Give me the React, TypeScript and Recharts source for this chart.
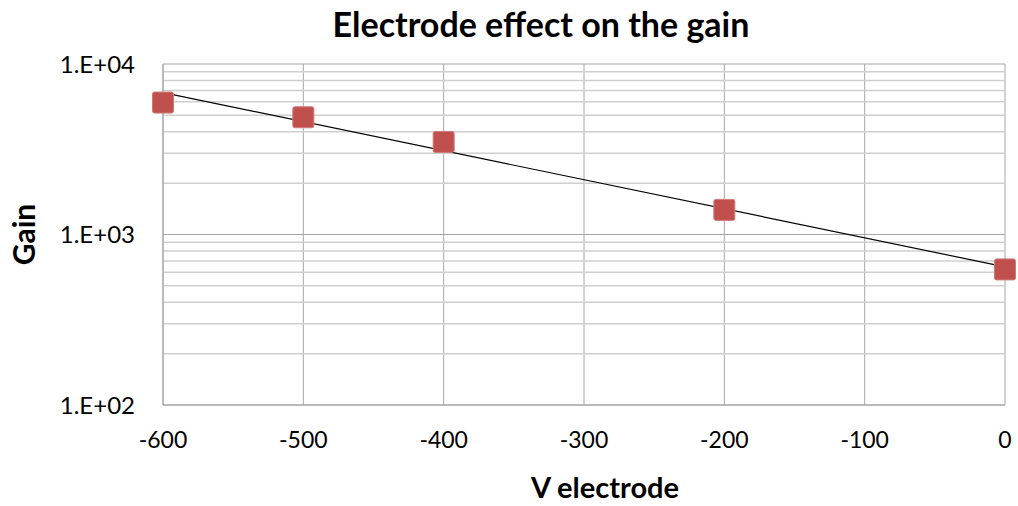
import React from "react";
import {
  ComposedChart,
  Scatter,
  Line,
  XAxis,
  YAxis,
  CartesianGrid,
  ReferenceLine,
  Label,
} from "recharts";

// measured gain vs electrode voltage
const voltages = [-600, -500, -400, -200, 0];
const gains = [5940, 4870, 3490, 1394, 624];

// exponential trendline, read at its two ends
const trendVoltages = [-600, 0];
const trendGains = [6795, 646];

const xTicks = [-600, -500, -400, -300, -200, -100, 0];
const yTicks = [100, 1000, 10000];
const minorTicks = [200, 300, 400, 500, 600, 700, 800, 900, 2000, 3000, 4000, 5000, 6000, 7000, 8000, 9000];

const points = voltages.map((v, i) => ({ v, gain: gains[i] }));
const trend = trendVoltages.map((v, i) => ({ v, trend: trendGains[i] }));

const FONT = "Lato, 'Open Sans', sans-serif";

const fmtExp = (val: number) => {
  const e = Math.round(Math.log10(val));
  return `1.E+${e.toString().padStart(2, "0")}`;
};

const SquareMarker = (props: any) => {
  const { cx, cy } = props;
  if (cx == null || cy == null) return null;
  return (
    <rect
      x={cx - 10.5}
      y={cy - 10.5}
      width={21}
      height={21}
      rx={2}
      fill="#C0504D"
      stroke="#d27a77"
      strokeWidth={1}
    />
  );
};

export default function App() {
  return (
    <div style={{ position: "absolute", left: 0, top: 0, width: 1018, height: 506, background: "#fff", fontFamily: FONT }}>
      <ComposedChart
        width={1018}
        height={506}
        margin={{ top: 64, right: 13, bottom: 0, left: 0 }}
      >
        <CartesianGrid stroke="#a6a6a6" strokeWidth={1} />
        {minorTicks.map((t) => (
          <ReferenceLine key={t} y={t} stroke="#cfcfcf" strokeWidth={1.5} />
        ))}
        <XAxis
          type="number"
          dataKey="v"
          domain={[-600, 0]}
          ticks={xTicks}
          tickLine={false}
          axisLine={{ stroke: "#a0a0a0" }}
          tickMargin={21}
          tick={{ fill: "#000", fontSize: 23, fontFamily: FONT }}
          height={101}
        >
          <Label
            value="V electrode"
            position="insideBottom"
            offset={8}
            dx={21}
            style={{ fill: "#000", fontSize: 29, fontWeight: 700, fontFamily: FONT }}
          />
        </XAxis>
        <YAxis
          type="number"
          scale="log"
          domain={[100, 10000]}
          ticks={yTicks}
          allowDataOverflow
          tickFormatter={fmtExp}
          tickLine={false}
          axisLine={{ stroke: "#a0a0a0" }}
          tickMargin={22}
          tick={{ fill: "#000", fontSize: 24, fontFamily: FONT }}
          width={163}
        >
          <Label
            value="Gain"
            angle={-90}
            position="insideLeft"
            offset={24}
            style={{ fill: "#000", fontSize: 30, fontWeight: 700, fontFamily: FONT, textAnchor: "middle" }}
          />
        </YAxis>
        <Line
          data={trend}
          dataKey="trend"
          type="linear"
          stroke="#000"
          strokeWidth={1.2}
          dot={false}
          activeDot={false}
          isAnimationActive={false}
        />
        <Scatter
          data={points}
          dataKey="gain"
          shape={<SquareMarker />}
          isAnimationActive={false}
        />
      </ComposedChart>
      <div
        style={{
          position: "absolute",
          left: 0,
          width: 1082,
          top: 3,
          textAlign: "center",
          fontSize: 34,
          fontWeight: 700,
          color: "#000",
        }}
      >
        Electrode effect on the gain
      </div>
    </div>
  );
}
